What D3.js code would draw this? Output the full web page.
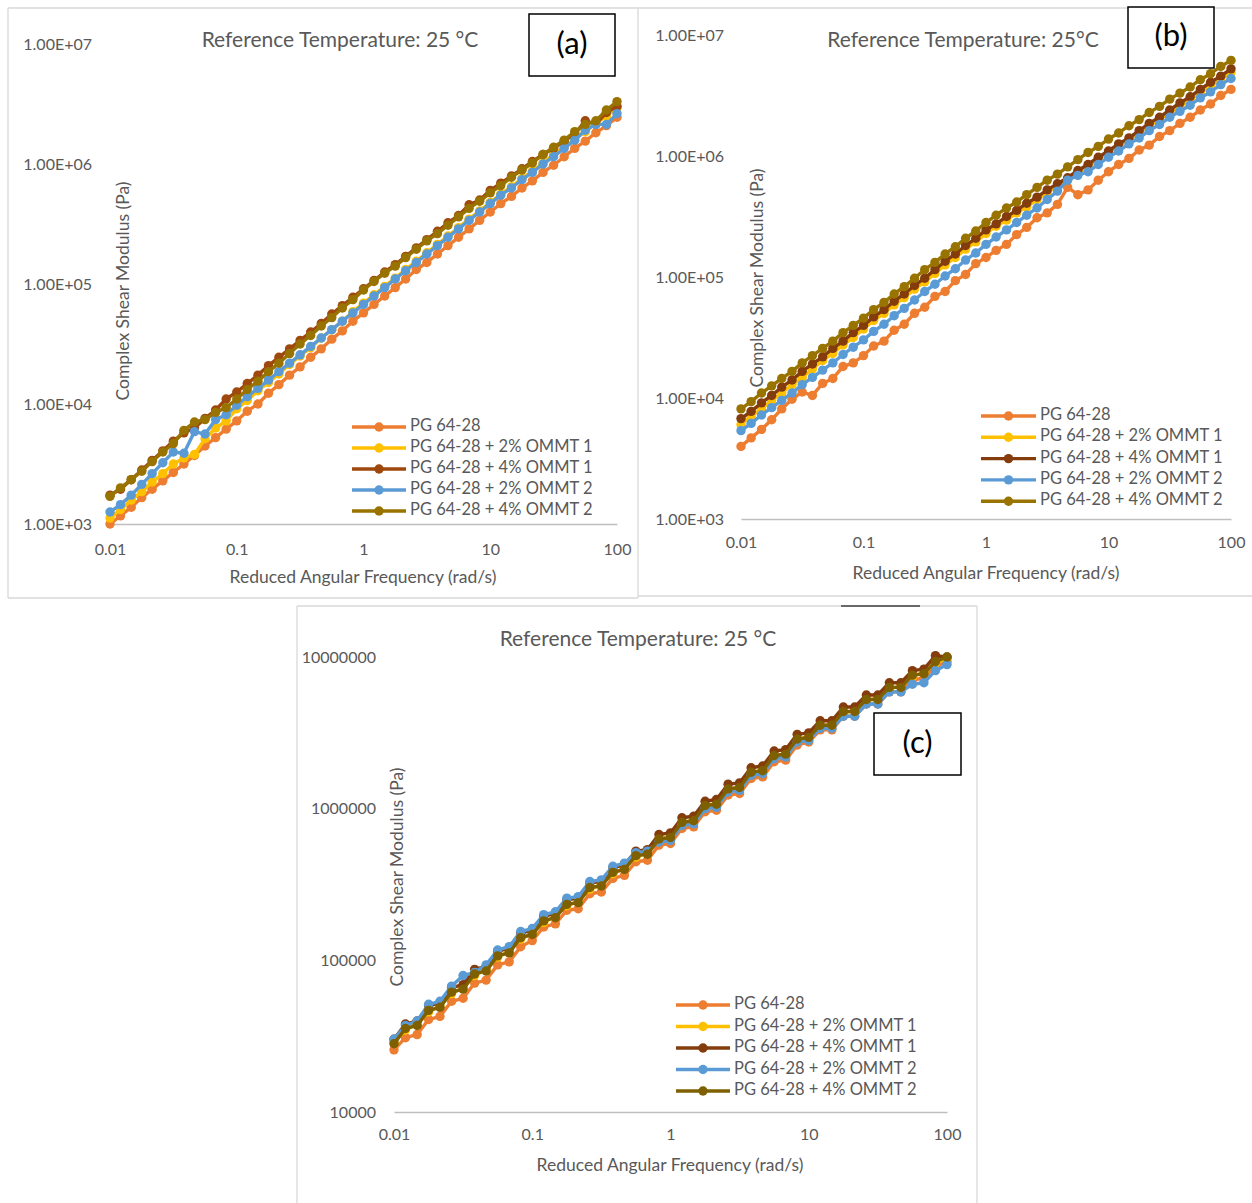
<!DOCTYPE html>
<html>
<head>
<meta charset="utf-8">
<title>Complex shear modulus master curves</title>
<script src="https://cdn.jsdelivr.net/npm/d3@7"></script>
<style>
  html, body { margin: 0; padding: 0; background: #ffffff; }
  svg { display: block; }
  text { font-family: Lato, "Open Sans", "DejaVu Sans", sans-serif; }
</style>
</head>
<body>
<svg id="chart" width="1252" height="1203"></svg>
<script>
// ---------------------------------------------------------------------------
// Data: complex shear modulus |G*| (Pa) versus reduced angular frequency (rad/s)
// ---------------------------------------------------------------------------
const frequency = [0.01, 0.0121, 0.0147, 0.0178, 0.0215, 0.0261, 0.0316, 0.0383, 0.0464, 0.0562, 0.0681, 0.0825,
  0.1, 0.121, 0.147, 0.178, 0.215, 0.261, 0.316, 0.383, 0.464, 0.562, 0.681, 0.825,
  1, 1.21, 1.47, 1.78, 2.15, 2.61, 3.16, 3.83, 4.64, 5.62, 6.81, 8.25,
  10, 12.1, 14.7, 17.8, 21.5, 26.1, 31.6, 38.3, 46.4, 56.2, 68.1, 82.5, 100];

const seriesNames = ["PG 64-28", "PG 64-28 + 2% OMMT 1", "PG 64-28 + 4% OMMT 1",
  "PG 64-28 + 2% OMMT 2", "PG 64-28 + 4% OMMT 2"];

// Panel (a)
const aBinder = [1.00e3, 1.17e3, 1.38e3, 1.66e3, 1.95e3, 2.29e3, 2.69e3, 3.16e3, 3.72e3, 4.47e3, 5.25e3, 6.17e3,
  7.24e3, 8.71e3, 1.00e4, 1.23e4, 1.45e4, 1.74e4, 2.04e4, 2.45e4, 2.88e4, 3.47e4, 4.07e4, 4.90e4,
  5.75e4, 6.76e4, 7.94e4, 9.33e4, 1.10e5, 1.32e5, 1.51e5, 1.78e5, 2.09e5, 2.45e5, 2.88e5, 3.39e5,
  3.98e5, 4.68e5, 5.37e5, 6.31e5, 7.24e5, 8.51e5, 9.77e5, 1.15e6, 1.35e6, 1.55e6, 1.82e6, 2.09e6, 2.45e6];
const aOmmt1Two = [1.12e3, 1.32e3, 1.58e3, 1.86e3, 2.24e3, 2.63e3, 3.16e3, 3.55e3, 3.80e3, 5.13e3, 6.31e3, 7.24e3,
  9.12e3, 1.07e4, 1.29e4, 1.51e4, 1.78e4, 2.14e4, 2.51e4, 2.95e4, 3.55e4, 4.17e4, 4.90e4, 5.89e4,
  6.92e4, 8.13e4, 9.55e4, 1.12e5, 1.32e5, 1.55e5, 1.82e5, 2.14e5, 2.51e5, 2.95e5, 3.47e5, 4.07e5,
  4.79e5, 5.62e5, 6.46e5, 7.59e5, 8.71e5, 1.02e6, 1.20e6, 1.38e6, 1.62e6, 1.86e6, 2.19e6, 2.51e6, 2.95e6];
const aOmmt1Four = [1.74e3, 1.95e3, 2.34e3, 2.82e3, 3.39e3, 4.07e3, 4.90e3, 5.75e3, 6.31e3, 7.59e3, 8.91e3, 1.10e4,
  1.26e4, 1.48e4, 1.74e4, 2.09e4, 2.45e4, 2.88e4, 3.39e4, 3.98e4, 4.68e4, 5.62e4, 6.61e4, 7.76e4,
  9.12e4, 1.07e5, 1.26e5, 1.45e5, 1.70e5, 2.00e5, 2.34e5, 2.75e5, 3.24e5, 3.72e5, 4.57e5, 5.01e5,
  6.03e5, 6.92e5, 7.94e5, 9.12e5, 1.05e6, 1.20e6, 1.35e6, 1.55e6, 1.78e6, 2.29e6, 2.14e6, 2.69e6, 3.02e6];
const aOmmt2Two = [1.26e3, 1.45e3, 1.74e3, 2.14e3, 2.63e3, 3.24e3, 3.98e3, 3.89e3, 5.89e3, 5.62e3, 7.41e3, 8.13e3,
  9.77e3, 1.15e4, 1.35e4, 1.58e4, 1.86e4, 2.19e4, 2.57e4, 3.02e4, 3.55e4, 4.17e4, 4.90e4, 5.75e4,
  6.76e4, 7.94e4, 9.33e4, 1.10e5, 1.29e5, 1.51e5, 1.78e5, 2.09e5, 2.45e5, 2.88e5, 3.39e5, 3.98e5,
  4.68e5, 5.50e5, 6.31e5, 7.41e5, 8.51e5, 1.00e6, 1.15e6, 1.35e6, 1.58e6, 1.91e6, 2.14e6, 2.14e6, 2.63e6];
const aOmmt2Four = [1.70e3, 2.00e3, 2.34e3, 2.75e3, 3.31e3, 3.98e3, 4.68e3, 6.03e3, 7.08e3, 7.41e3, 8.51e3, 9.33e3,
  1.10e4, 1.32e4, 1.55e4, 1.86e4, 2.19e4, 2.63e4, 3.16e4, 3.72e4, 4.47e4, 5.25e4, 6.31e4, 7.41e4,
  8.91e4, 1.05e5, 1.23e5, 1.41e5, 1.66e5, 1.95e5, 2.29e5, 2.63e5, 3.09e5, 3.63e5, 4.27e5, 4.90e5,
  5.75e5, 6.61e5, 7.76e5, 8.91e5, 1.02e6, 1.20e6, 1.38e6, 1.58e6, 1.86e6, 2.14e6, 2.29e6, 2.82e6, 3.31e6];

// Panel (b)
const bBinder = [3.98e3, 4.68e3, 5.50e3, 6.61e3, 8.13e3, 9.77e3, 1.12e4, 1.05e4, 1.32e4, 1.45e4, 1.82e4, 1.95e4,
  2.24e4, 2.69e4, 2.95e4, 3.63e4, 4.07e4, 5.01e4, 5.62e4, 6.92e4, 7.59e4, 9.33e4, 1.05e5, 1.29e5,
  1.45e5, 1.66e5, 1.86e5, 2.24e5, 2.57e5, 3.09e5, 3.39e5, 3.98e5, 5.50e5, 4.79e5, 5.25e5, 6.31e5,
  7.41e5, 8.51e5, 9.55e5, 1.12e6, 1.23e6, 1.45e6, 1.62e6, 1.86e6, 2.09e6, 2.40e6, 2.69e6, 3.16e6, 3.55e6];
const bOmmt1Two = [6.03e3, 7.08e3, 8.13e3, 9.55e3, 1.10e4, 1.29e4, 1.48e4, 1.74e4, 2.04e4, 2.34e4, 2.75e4, 3.16e4,
  3.72e4, 4.37e4, 5.01e4, 5.89e4, 6.76e4, 7.94e4, 9.12e4, 1.07e5, 1.26e5, 1.45e5, 1.70e5, 1.95e5,
  2.29e5, 2.63e5, 2.95e5, 3.39e5, 3.80e5, 4.37e5, 5.01e5, 5.62e5, 6.46e5, 7.24e5, 8.32e5, 9.33e5,
  1.07e6, 1.20e6, 1.38e6, 1.55e6, 1.78e6, 2.00e6, 2.29e6, 2.57e6, 2.95e6, 3.31e6, 3.80e6, 4.27e6, 4.90e6];
const bOmmt1Four = [6.76e3, 7.76e3, 9.12e3, 1.05e4, 1.23e4, 1.41e4, 1.66e4, 1.91e4, 2.19e4, 2.57e4, 2.95e4, 3.47e4,
  3.98e4, 4.68e4, 5.37e4, 6.31e4, 7.24e4, 8.51e4, 9.77e4, 1.15e5, 1.35e5, 1.55e5, 1.82e5, 2.09e5,
  2.45e5, 2.75e5, 3.16e5, 3.55e5, 4.07e5, 4.57e5, 5.25e5, 5.89e5, 6.61e5, 7.59e5, 8.51e5, 9.77e5,
  1.10e6, 1.26e6, 1.41e6, 1.62e6, 1.86e6, 2.09e6, 2.40e6, 2.75e6, 3.09e6, 3.55e6, 4.07e6, 4.57e6, 5.25e6];
const bOmmt2Two = [5.37e3, 6.17e3, 7.24e3, 8.32e3, 9.55e3, 1.10e4, 1.29e4, 1.48e4, 1.70e4, 1.95e4, 2.29e4, 2.63e4,
  3.02e4, 3.55e4, 4.07e4, 4.79e4, 5.50e4, 6.46e4, 7.59e4, 8.71e4, 1.02e5, 1.17e5, 1.38e5, 1.58e5,
  1.86e5, 2.14e5, 2.45e5, 2.82e5, 3.24e5, 3.72e5, 4.37e5, 5.13e5, 6.31e5, 6.92e5, 7.41e5, 8.51e5,
  9.77e5, 1.10e6, 1.26e6, 1.41e6, 1.62e6, 1.82e6, 2.09e6, 2.34e6, 2.63e6, 3.02e6, 3.39e6, 3.89e6, 4.37e6];
const bOmmt2Four = [8.13e3, 9.33e3, 1.10e4, 1.26e4, 1.45e4, 1.66e4, 1.95e4, 2.24e4, 2.57e4, 2.95e4, 3.47e4, 3.98e4,
  4.57e4, 5.37e4, 6.17e4, 7.24e4, 8.32e4, 9.77e4, 1.15e5, 1.32e5, 1.55e5, 1.78e5, 2.09e5, 2.40e5,
  2.82e5, 3.24e5, 3.72e5, 4.17e5, 4.79e5, 5.50e5, 6.31e5, 7.08e5, 8.13e5, 9.33e5, 1.07e6, 1.20e6,
  1.38e6, 1.55e6, 1.78e6, 2.00e6, 2.29e6, 2.57e6, 2.95e6, 3.31e6, 3.72e6, 4.27e6, 4.79e6, 5.50e6, 6.17e6];

// Panel (c)
const cBinder = [2.57e4, 3.09e4, 3.24e4, 4.07e4, 4.27e4, 5.37e4, 5.62e4, 7.08e4, 7.41e4, 9.33e4, 9.77e4, 1.23e5,
  1.35e5, 1.66e5, 1.74e5, 2.14e5, 2.19e5, 2.75e5, 2.82e5, 3.47e5, 3.63e5, 4.47e5, 4.57e5, 5.75e5,
  5.89e5, 7.41e5, 7.59e5, 9.55e5, 9.77e5, 1.23e6, 1.26e6, 1.58e6, 1.62e6, 2.04e6, 2.09e6, 2.63e6,
  2.75e6, 3.31e6, 3.31e6, 4.07e6, 4.07e6, 4.90e6, 4.90e6, 5.89e6, 5.89e6, 7.08e6, 7.24e6, 8.71e6, 9.33e6];
const cOmmt1Two = [2.88e4, 3.47e4, 3.80e4, 4.57e4, 5.01e4, 6.03e4, 6.61e4, 7.94e4, 8.71e4, 1.05e5, 1.15e5, 1.38e5,
  1.51e5, 1.78e5, 1.95e5, 2.29e5, 2.45e5, 2.95e5, 3.16e5, 3.72e5, 4.07e5, 4.79e5, 5.13e5, 6.17e5,
  6.61e5, 7.94e5, 8.51e5, 1.02e6, 1.10e6, 1.32e6, 1.41e6, 1.70e6, 1.82e6, 2.19e6, 2.34e6, 2.82e6,
  3.02e6, 3.47e6, 3.63e6, 4.27e6, 4.47e6, 5.13e6, 5.37e6, 6.17e6, 6.46e6, 7.41e6, 7.94e6, 9.12e6, 9.77e6];
const cOmmt1Four = [3.02e4, 3.80e4, 3.98e4, 5.01e4, 5.25e4, 6.61e4, 6.92e4, 8.71e4, 9.12e4, 1.15e5, 1.20e5, 1.51e5,
  1.58e5, 1.95e5, 2.04e5, 2.51e5, 2.57e5, 3.24e5, 3.31e5, 4.07e5, 4.27e5, 5.25e5, 5.37e5, 6.76e5,
  6.92e5, 8.71e5, 8.91e5, 1.12e6, 1.15e6, 1.45e6, 1.48e6, 1.86e6, 1.91e6, 2.40e6, 2.45e6, 3.09e6,
  3.16e6, 3.80e6, 3.80e6, 4.68e6, 4.68e6, 5.62e6, 5.62e6, 6.76e6, 6.76e6, 8.13e6, 8.32e6, 1.02e7, 1.00e7];
const cOmmt2Two = [3.02e4, 3.72e4, 3.98e4, 5.13e4, 5.37e4, 6.76e4, 7.94e4, 8.32e4, 9.33e4, 1.17e5, 1.23e5, 1.55e5,
  1.62e5, 2.00e5, 2.09e5, 2.57e5, 2.63e5, 3.31e5, 3.39e5, 4.17e5, 4.37e5, 5.13e5, 5.25e5, 6.03e5,
  6.17e5, 7.76e5, 7.94e5, 1.00e6, 1.02e6, 1.29e6, 1.32e6, 1.66e6, 1.70e6, 2.14e6, 2.19e6, 2.75e6,
  2.82e6, 3.39e6, 3.39e6, 4.07e6, 4.07e6, 4.90e6, 4.90e6, 5.89e6, 5.89e6, 6.61e6, 6.76e6, 8.13e6, 8.91e6];
const cOmmt2Four = [2.82e4, 3.55e4, 3.72e4, 4.68e4, 4.90e4, 6.17e4, 6.46e4, 8.13e4, 8.51e4, 1.07e5, 1.12e5, 1.41e5,
  1.48e5, 1.82e5, 1.91e5, 2.34e5, 2.40e5, 3.02e5, 3.09e5, 3.80e5, 3.98e5, 4.90e5, 5.01e5, 6.31e5,
  6.46e5, 8.13e5, 8.32e5, 1.05e6, 1.07e6, 1.35e6, 1.38e6, 1.74e6, 1.78e6, 2.24e6, 2.29e6, 2.88e6,
  2.95e6, 3.55e6, 3.55e6, 4.37e6, 4.37e6, 5.25e6, 5.25e6, 6.31e6, 6.31e6, 7.59e6, 7.76e6, 9.33e6, 1.00e7];

// Axis ticks
const xTicks = [0.01, 0.1, 1, 10, 100];
const yTicksAB = [1e3, 1e4, 1e5, 1e6, 1e7];
const yTicksC = [1e4, 1e5, 1e6, 1e7];

// ---------------------------------------------------------------------------
// Styling and layout
// ---------------------------------------------------------------------------
const TEXT_GREY = "#595959";
const AXIS_GREY = "#bfbfbf";
const FRAME_GREY = "#d9d9d9";
const FONT = "Lato, 'Open Sans', sans-serif";
const MARKER_R = 4.7;
const LINE_W = 3.4;

// Excel-style scientific tick label: 1.00E+07
const sciFormat = v => {
  const [m, e] = v.toExponential(2).split("e");
  const n = Math.abs(+e);
  return m + "E" + (+e < 0 ? "-" : "+") + (n < 10 ? "0" + n : n);
};
const plainFormat = d3.format("d");
const freqFormat = d3.format("~g");

const panels = [
  {
    id: "a",
    title: "Reference Temperature: 25 °C",
    series: [aBinder, aOmmt1Two, aOmmt1Four, aOmmt2Two, aOmmt2Four],
    colors: ["#ED7D31", "#FFC000", "#9E480E", "#5B9BD5", "#997300"],
    yDomain: [1e3, 1e7], yTicks: yTicksAB, yFormat: sciFormat,
    x0: 110, x1: 617, yTop: 44, yBottom: 524,
    xPad: 20, yPad: 18,
    titleAt: [340, 42],
    yTitleAt: [125, 291],
    xTitleAt: [363, 579],
    box: { x: 529, y: 14, w: 86, h: 62 },
    legend: { x0: 352, x1: 406, text: 410, y: 427, dy: 21 },
    frame: [[8, 8, 638, 8], [8, 8, 8, 598], [8, 598, 638, 598], [638, 8, 638, 598]]
  },
  {
    id: "b",
    title: "Reference Temperature: 25°C",
    series: [bBinder, bOmmt1Two, bOmmt1Four, bOmmt2Two, bOmmt2Four],
    colors: ["#ED7D31", "#FFC000", "#843C0C", "#5B9BD5", "#997300"],
    yDomain: [1e3, 1e7], yTicks: yTicksAB, yFormat: sciFormat,
    x0: 741, x1: 1231, yTop: 35, yBottom: 519,
    xPad: 18, yPad: 17,
    titleAt: [963, 42],
    yTitleAt: [759, 278],
    xTitleAt: [986, 575],
    box: { x: 1128, y: 7, w: 86, h: 61 },
    legend: { x0: 981, x1: 1036, text: 1040, y: 416, dy: 21.3 },
    frame: [[638, 8, 1252, 8], [638, 596, 1252, 596]]
  },
  {
    id: "c",
    title: "Reference Temperature: 25 °C",
    series: [cBinder, cOmmt1Two, cOmmt1Four, cOmmt2Two, cOmmt2Four],
    colors: ["#ED7D31", "#FFC000", "#843C0C", "#5B9BD5", "#7F6000"],
    yDomain: [1e4, 1e7], yTicks: yTicksC, yFormat: plainFormat,
    x0: 394, x1: 947, yTop: 657, yBottom: 1112,
    xPad: 17, yPad: 18,
    titleAt: [638, 641],
    yTitleAt: [399, 877],
    xTitleAt: [670, 1167],
    box: { x: 874, y: 713, w: 87, h: 62 },
    legend: { x0: 676, x1: 730, text: 734, y: 1005, dy: 21.5 },
    frame: [[297, 606, 977, 606], [297, 606, 297, 1203], [977, 606, 977, 1203]]
  }
];

const svg = d3.select("#chart");
svg.append("rect").attr("width", 1252).attr("height", 1203).attr("fill", "#ffffff");

function drawPanel(p) {
  const g = svg.append("g").attr("class", "panel-" + p.id);

  // chart area outline
  g.selectAll("line.frame").data(p.frame).join("line")
    .attr("class", "frame")
    .attr("x1", d => d[0]).attr("y1", d => d[1])
    .attr("x2", d => d[2]).attr("y2", d => d[3])
    .attr("stroke", FRAME_GREY).attr("stroke-width", 1.3);

  const x = d3.scaleLog().domain([0.01, 100]).range([p.x0, p.x1]);
  const y = d3.scaleLog().domain(p.yDomain).range([p.yBottom, p.yTop]);

  // horizontal axis
  const xa = g.append("g")
    .attr("transform", `translate(0,${p.yBottom})`)
    .call(d3.axisBottom(x).tickValues(xTicks).tickFormat(freqFormat).tickSize(0).tickPadding(p.xPad));
  xa.select(".domain").attr("stroke", AXIS_GREY).attr("stroke-width", 1.6);
  xa.selectAll("text").attr("fill", TEXT_GREY).attr("font-size", 16).style("font-family", FONT);

  // vertical axis (labels only)
  const ya = g.append("g")
    .attr("transform", `translate(${p.x0},0)`)
    .call(d3.axisLeft(y).tickValues(p.yTicks).tickFormat(p.yFormat).tickSize(0).tickPadding(p.yPad));
  ya.select(".domain").remove();
  ya.selectAll("text").attr("fill", TEXT_GREY).attr("font-size", 16).style("font-family", FONT);

  // titles
  g.append("text").attr("x", p.titleAt[0]).attr("y", p.titleAt[1])
    .attr("text-anchor", "middle").attr("dominant-baseline", "middle")
    .attr("fill", TEXT_GREY).attr("font-size", 21).text(p.title);
  g.append("text")
    .attr("transform", `translate(${p.yTitleAt[0]},${p.yTitleAt[1]}) rotate(-90)`)
    .attr("text-anchor", "middle").attr("dominant-baseline", "middle")
    .attr("fill", TEXT_GREY).attr("font-size", 17.5).text("Complex Shear Modulus (Pa)");
  g.append("text").attr("x", p.xTitleAt[0]).attr("y", p.xTitleAt[1])
    .attr("text-anchor", "middle").attr("dominant-baseline", "middle")
    .attr("fill", TEXT_GREY).attr("font-size", 17.5).text("Reduced Angular Frequency (rad/s)");

  // series: lines with circle markers, later series drawn on top
  const line = d3.line().x(d => x(d.f)).y(d => y(d.g));
  p.series.forEach((vals, i) => {
    const pts = frequency.map((f, k) => ({ f: f, g: vals[k] }));
    const sg = g.append("g").attr("class", "series");
    sg.append("path").datum(pts)
      .attr("d", line).attr("fill", "none")
      .attr("stroke", p.colors[i]).attr("stroke-width", LINE_W)
      .attr("stroke-linejoin", "round");
    sg.selectAll("circle").data(pts).join("circle")
      .attr("cx", d => x(d.f)).attr("cy", d => y(d.g)).attr("r", MARKER_R)
      .attr("fill", p.colors[i]);
  });

  // legend
  const lg = g.append("g").attr("class", "legend");
  seriesNames.forEach((name, i) => {
    const ly = p.legend.y + i * p.legend.dy;
    lg.append("line")
      .attr("x1", p.legend.x0).attr("x2", p.legend.x1).attr("y1", ly).attr("y2", ly)
      .attr("stroke", p.colors[i]).attr("stroke-width", LINE_W);
    lg.append("circle")
      .attr("cx", (p.legend.x0 + p.legend.x1) / 2).attr("cy", ly).attr("r", MARKER_R)
      .attr("fill", p.colors[i]);
    lg.append("text").attr("x", p.legend.text).attr("y", ly)
      .attr("dominant-baseline", "middle").attr("fill", TEXT_GREY)
      .attr("font-size", 16.5).text(name);
  });

  // panel tag box
  g.append("rect").attr("x", p.box.x).attr("y", p.box.y)
    .attr("width", p.box.w).attr("height", p.box.h)
    .attr("fill", "#ffffff").attr("stroke", "#000000").attr("stroke-width", 1.5);
  g.append("text").attr("x", p.box.x + p.box.w / 2).attr("y", p.box.y + p.box.h / 2 + 1)
    .attr("text-anchor", "middle").attr("dominant-baseline", "middle")
    .attr("fill", "#000000").attr("font-size", 31).text("(" + p.id + ")");
}

panels.forEach(drawPanel);

// short dark rule above panel (c)
svg.append("line").attr("x1", 841).attr("x2", 920).attr("y1", 606).attr("y2", 606)
  .attr("stroke", "#404040").attr("stroke-width", 1.5);
</script>
</body>
</html>
